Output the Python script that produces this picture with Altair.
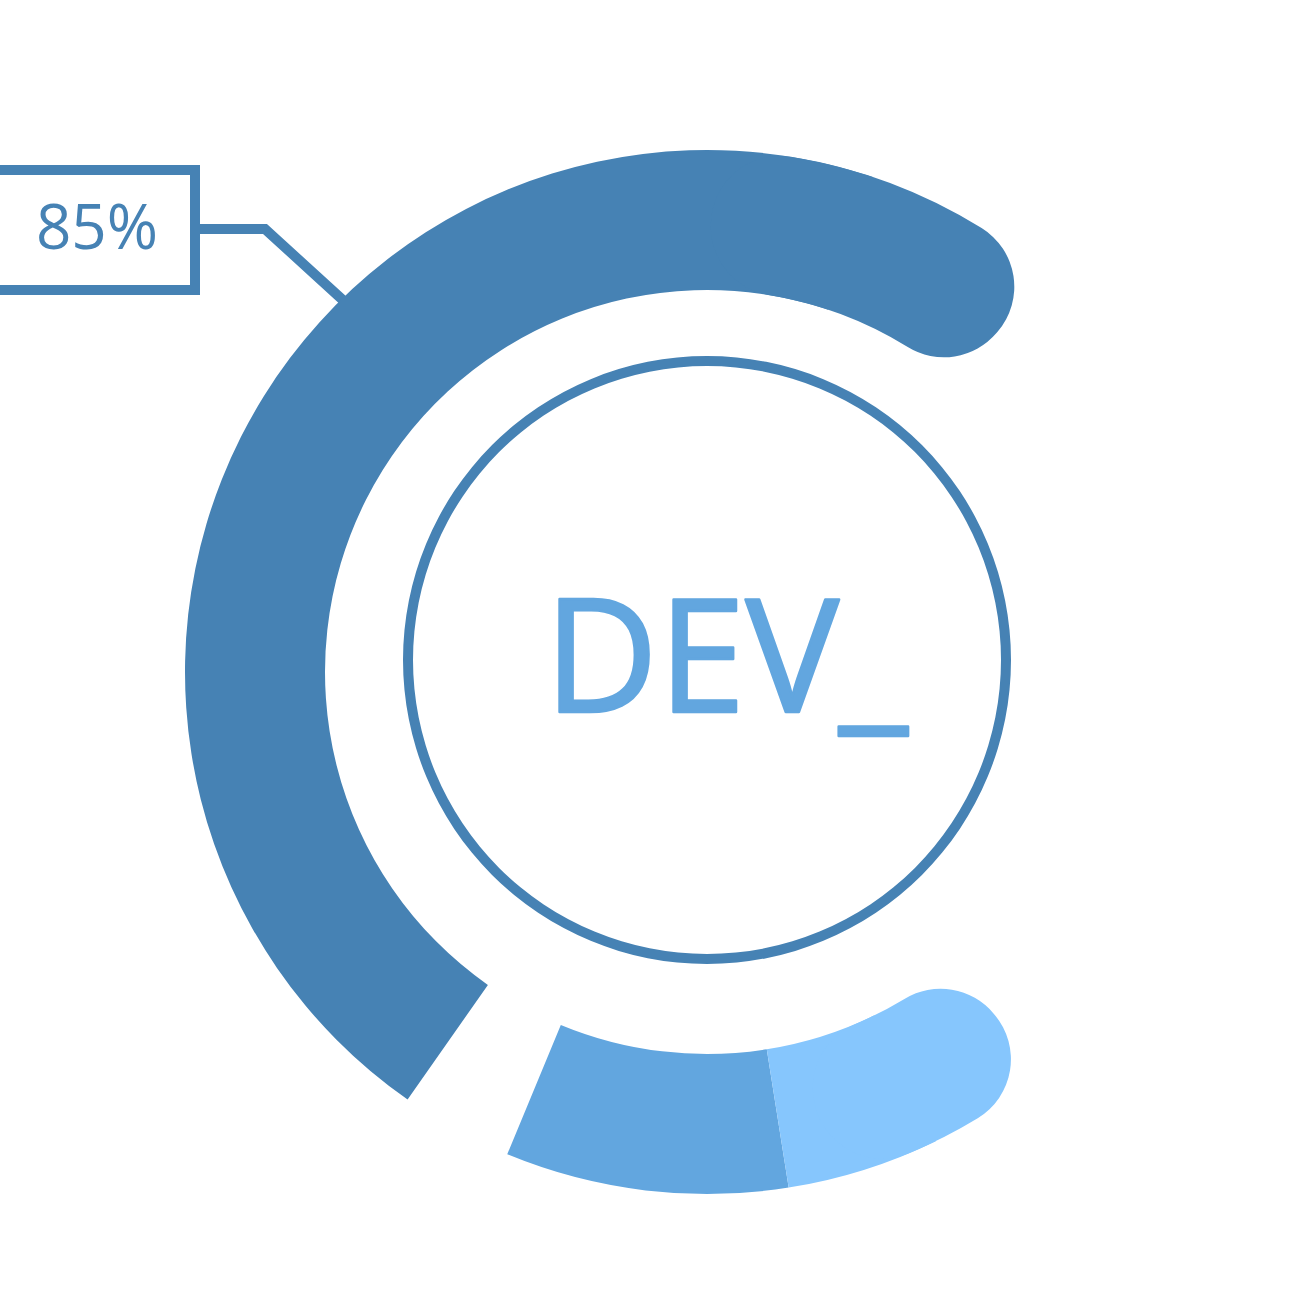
import math
import altair as alt
import pandas as pd

# ---- data ----
segments = ["Dev", "Mid", "Light"]
start_deg = [-145.0, 171.0, 140.0]     # clockwise from 12 o'clock
end_deg = [40.5, 202.5, 171.0]
rounded_side = ["end", "none", "start"]
seg_colors = ["#4682B4", "#62A6DF", "#86C6FD"]

value_label = ["85%"]
center_label = ["DEV_"]

# leader line (annotation, pixel space)
leader_x = [198, 265, 345]
leader_y = [229, 229, 302]

# ---- derived tables ----
main_rows, cap_rows = [], []
for s, a, b, r in zip(segments, start_deg, end_deg, rounded_side):
    if r == "end":
        main_rows.append({"seg": s, "a": a, "b": b - 22})
        cap_rows.append({"seg": s, "a": b - 40, "b": b})
    elif r == "start":
        main_rows.append({"seg": s, "a": a + 14, "b": b})
        cap_rows.append({"seg": s, "a": a, "b": a + 26})
    else:
        main_rows.append({"seg": s, "a": a, "b": b})
main_df = pd.DataFrame(main_rows)
cap_df = pd.DataFrame(cap_rows)

theta_scale = alt.Scale(domain=[0, 360], range=[0, 2 * math.pi])
color_scale = alt.Scale(domain=segments, range=seg_colors)

CX, CY = 707, 672
R_OUT, R_IN = 522, 382

leader = alt.Chart(pd.DataFrame({"x": leader_x, "y": leader_y, "i": [0, 1, 2]})).mark_line(
    color="#4682B4", strokeWidth=10, strokeJoin="miter"
).encode(
    x=alt.X("x:Q", scale=None, axis=None),
    y=alt.Y("y:Q", scale=None, axis=None),
    order="i:Q",
)

main_arcs = alt.Chart(main_df).mark_arc(radius=R_OUT, radius2=R_IN).encode(
    theta=alt.Theta("a:Q", scale=theta_scale, stack=False),
    theta2="b:Q",
    color=alt.Color("seg:N", scale=color_scale, legend=None),
    x=alt.value(CX),
    y=alt.value(CY),
)

cap_arcs = alt.Chart(cap_df).mark_arc(radius=R_OUT, radius2=R_IN, cornerRadius=69).encode(
    theta=alt.Theta("a:Q", scale=theta_scale, stack=False),
    theta2="b:Q",
    color=alt.Color("seg:N", scale=color_scale, legend=None),
    x=alt.value(CX),
    y=alt.value(CY),
)

ring = alt.Chart(pd.DataFrame({"k": [0]})).mark_arc(
    radius=304, radius2=294, color="#4682B4"
).encode(
    theta=alt.value(0),
    theta2=alt.value(2 * math.pi),
    x=alt.value(707),
    y=alt.value(660),
)

box = alt.Chart(pd.DataFrame({"k": [0]})).mark_rect(
    fill="white", stroke="#4682B4", strokeWidth=10
).encode(
    x=alt.value(-6), x2=alt.value(195), y=alt.value(170), y2=alt.value(290)
)

box_text = alt.Chart(pd.DataFrame({"t": value_label})).mark_text(
    font="Open Sans", fontSize=62, color="#4682B4", align="center", baseline="alphabetic"
).encode(text="t:N", x=alt.value(97), y=alt.value(249))

center_text = alt.Chart(pd.DataFrame({"t": center_label})).mark_text(
    font="Open Sans", fontSize=157, color="#62A6DF", stroke="#62A6DF", strokeWidth=2.5,
    strokeJoin="round", align="center", baseline="alphabetic"
).encode(text="t:N", x=alt.value(726), y=alt.value(712))

chart = alt.layer(
    leader, main_arcs, cap_arcs, ring, box, box_text, center_text
).properties(
    width=1313, height=1313, padding=0, autosize=alt.AutoSizeParams(type="none"),
    background="white",
).configure_view(stroke=None)

chart.save("out.html", embed_options={"renderer": "svg", "actions": False})
